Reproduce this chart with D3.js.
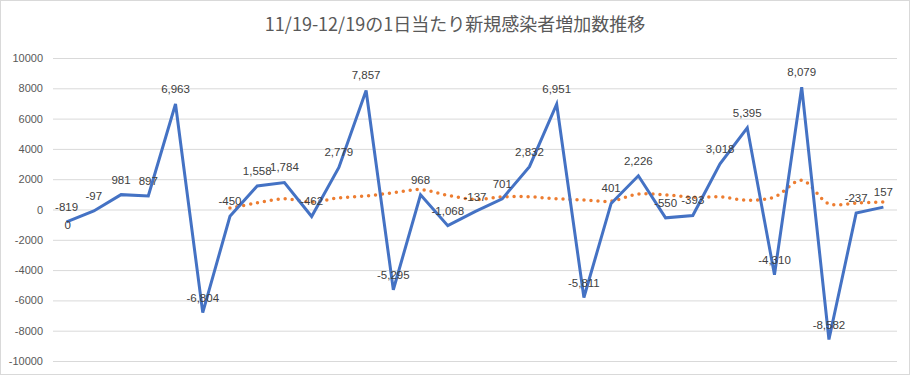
<html>
	<head>
		<meta charset="utf-8">
		<title>新規感染者増加数推移</title>
		<script src="https://d3js.org/d3.v7.min.js"></script>
		<style>
			body { margin: 0; background: #fff; }
		</style>
	</head>
	<body>
		<div id="chart"></div>
	</body>
	<script>
		// 11/19 - 12/19, one value per day
		var days = ["11/19","11/20","11/21","11/22","11/23","11/24","11/25","11/26","11/27","11/28",
			"11/29","11/30","12/1","12/2","12/3","12/4","12/5","12/6","12/7","12/8",
			"12/9","12/10","12/11","12/12","12/13","12/14","12/15","12/16","12/17","12/18","12/19"];
		var increase = [-819, -97, 981, 897, 6963, -6804, -450, 1558, 1784, -462,
			2779, 7857, -5295, 968, -1068, -137, 701, 2832, 6951, -5811,
			401, 2226, -550, -393, 3018, 5395, -4310, 8079, -8582, -237, 157];
		// moving average line (orange dots), starts on 11/25
		var avgDays = days.slice(6);
		var average = [96, 435, 704, 498, 767, 895, 1110, 1313, 938, 663,
			829, 837, 707, 634, 553, 1023, 964, 808, 835, 612,
			827, 1924, 380, 424, 503];
		var yTicks = [-10000, -8000, -6000, -4000, -2000, 0, 2000, 4000, 6000, 8000, 10000];
		var title = "11/19-12/19の1日当たり新規感染者増加数推移";

		var width = 912, height = 376;
		var plotLeft = 53, plotRight = 897, plotTop = 58, plotBottom = 361;

		// plain hyphen for negatives, like the original sheet
		var loc = d3.formatLocale({decimal: ".", thousands: ",", grouping: [3], currency: ["", ""], minus: "-"});
		var fmtComma = loc.format(",");
		var fmtPlain = loc.format("d");

		var svg = d3.select("#chart")
			.append("svg")
			.attr("width", width)
			.attr("height", height);

		svg.append("rect")
			.attr("x", 0.5).attr("y", 0.5)
			.attr("width", 909).attr("height", 374)
			.attr("fill", "#fff")
			.attr("stroke", "#d9d9d9");

		svg.append("text")
			.attr("x", 455).attr("y", 31)
			.attr("text-anchor", "middle")
			.attr("font-family", "'Noto Sans CJK JP', sans-serif")
			.attr("font-size", 18)
			.attr("fill", "#595959")
			.text(title);

		var x = d3.scalePoint().domain(days).range([plotLeft, plotRight]).padding(0.5);
		var y = d3.scaleLinear().domain([-10000, 10000]).range([plotBottom, plotTop]);

		// grid + y labels
		var yAxis = d3.axisLeft(y).tickValues(yTicks).tickSize(-(plotRight - plotLeft)).tickPadding(10).tickFormat(fmtPlain);
		var ga = svg.append("g")
			.attr("transform", "translate(" + plotLeft + ",0)")
			.call(yAxis);
		ga.select(".domain").remove();
		ga.selectAll("line").attr("stroke", "#d9d9d9");
		ga.selectAll("text")
			.attr("font-family", "'Liberation Sans', sans-serif")
			.attr("font-size", 11)
			.attr("fill", "#595959");

		// orange dotted average
		var avgLine = d3.line()
			.x(function(d, i){ return x(avgDays[i]); })
			.y(function(d){ return y(d); })
			.curve(d3.curveCatmullRom);
		svg.append("path")
			.attr("d", avgLine(average))
			.attr("fill", "none")
			.attr("stroke", "#ed7d31")
			.attr("stroke-width", 3.5)
			.attr("stroke-linecap", "round")
			.attr("stroke-dasharray", "0,7");

		// blue line
		var line = d3.line()
			.x(function(d, i){ return x(days[i]); })
			.y(function(d){ return y(d); });
		svg.append("path")
			.attr("d", line(increase))
			.attr("fill", "none")
			.attr("stroke", "#4472c4")
			.attr("stroke-width", 3)
			.attr("stroke-linejoin", "miter");

		// data labels
		svg.selectAll(".lbl")
			.data(increase)
			.enter()
			.append("text")
			.attr("class", "lbl")
			.attr("x", function(d, i){ return x(days[i]); })
			.attr("y", function(d){ return y(d) - 11; })
			.attr("text-anchor", "middle")
			.attr("font-family", "'Liberation Sans', sans-serif")
			.attr("font-size", 11.5)
			.attr("fill", "#404040")
			.text(function(d){ return fmtComma(d); });

		svg.append("text")
			.attr("x", x(days[0]) + 1)
			.attr("y", y(increase[0]) + 7)
			.attr("text-anchor", "middle")
			.attr("font-family", "'Liberation Sans', sans-serif")
			.attr("font-size", 11.5)
			.attr("fill", "#404040")
			.text("0");
	</script>
</html>
